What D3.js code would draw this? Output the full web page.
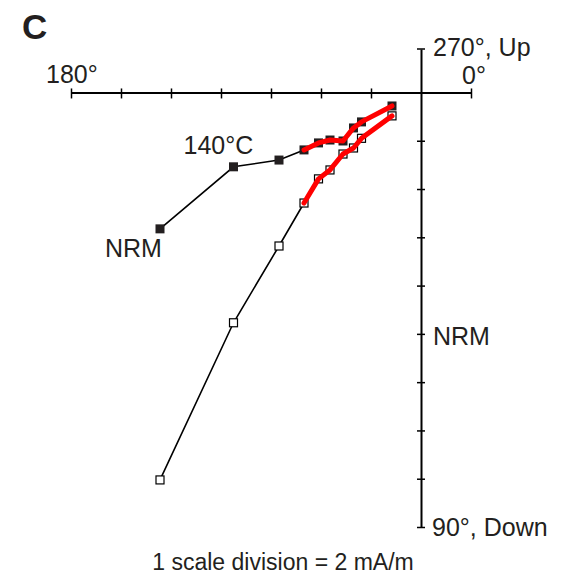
<!DOCTYPE html>
<html lang="en">

<head>
    <meta charset="UTF-8">
    <meta name="viewport" content="width=device-width, initial-scale=1.0">
    <script src="https://cdn.jsdelivr.net/npm/d3@7/dist/d3.min.js"></script>
    <title>Zijderveld C</title>
    <style>
        body { margin: 0; background: #fff; }
        text { font-family: "Liberation Sans", Arial, Helvetica, sans-serif; fill: #231f20; }
    </style>
</head>

<body>
    <div class="no1"></div>
</body>
<script>
    // demagnetization steps, mA/m (N positive to the right, E / Down positive downward)
    var steps = ["NRM", "140°C", "", "", "", "", "", "", "", ""];
    var north = [-10.44, -7.5, -5.68, -4.68, -4.1, -3.64, -3.12, -2.7, -2.38, -1.16];
    var east = [5.65, 3.08, 2.80, 2.38, 2.09, 1.97, 2.01, 1.47, 1.22, 0.56];
    var down = [16.05, 9.54, 6.36, 4.58, 3.58, 3.21, 2.55, 2.30, 1.90, 0.97];
    var fitStart = 3;
    var xTicks = [-14, -12, -10, -8, -6, -4, -2, 2];
    var yTicks = [2, 4, 6, 8, 10, 12, 14, 16, 18];

    var width = 566;
    var height = 581;
    var svg = d3.select(".no1").append("svg").attr("width", width).attr("height", height);

    var x = d3.scaleLinear().domain([-14, 2]).range([71, 471]);
    var y = d3.scaleLinear().domain([-1.8, 18]).range([49, 527]);

    // horizontal axis (180° - 0°)
    var gx = svg.append("g").attr("transform", "translate(0," + y(0) + ")")
        .call(d3.axisBottom(x).tickValues(xTicks).tickSize(6).tickSizeOuter(0).tickFormat(""));
    gx.select(".domain").attr("stroke", "#000").attr("stroke-width", 2);
    gx.selectAll(".tick line").attr("y1", -4).attr("y2", 6).attr("stroke", "#000").attr("stroke-width", 1.5);

    // vertical axis (270° Up - 90° Down)
    var gy = svg.append("g").attr("transform", "translate(" + x(0) + ",0)")
        .call(d3.axisLeft(y).tickValues(yTicks).tickSize(4).tickSizeOuter(0).tickFormat(""));
    gy.select(".domain").attr("stroke", "#000").attr("stroke-width", 2);
    gy.selectAll(".tick line").attr("x1", 4).attr("x2", -4).attr("stroke", "#000").attr("stroke-width", 1.5);
    svg.append("line").attr("x1", x(0) - 4).attr("x2", x(0) + 4).attr("y1", y(-1.8)).attr("y2", y(-1.8))
        .attr("stroke", "#000").attr("stroke-width", 1.5);

    var hor = north.map(function(item, index) { return [item, east[index]]; });
    var ver = north.map(function(item, index) { return [item, down[index]]; });
    var line = d3.line().x(function(d) { return x(d[0]); }).y(function(d) { return y(d[1]); });

    svg.append("path").attr("d", line(hor)).attr("fill", "none").attr("stroke", "#000").attr("stroke-width", 1.6);
    svg.append("path").attr("d", line(ver)).attr("fill", "none").attr("stroke", "#000").attr("stroke-width", 1.6);

    var sq = 9;
    svg.selectAll("rect.hor").data(hor).enter().append("rect").attr("class", "hor")
        .attr("x", function(d) { return x(d[0]) - sq / 2; })
        .attr("y", function(d) { return y(d[1]) - sq / 2; })
        .attr("width", sq).attr("height", sq).attr("fill", "#231f20");
    svg.selectAll("rect.ver").data(ver).enter().append("rect").attr("class", "ver")
        .attr("x", function(d) { return x(d[0]) - (sq - 1) / 2; })
        .attr("y", function(d) { return y(d[1]) - (sq - 1) / 2; })
        .attr("width", sq - 1).attr("height", sq - 1).attr("fill", "#fff").attr("stroke", "#000").attr("stroke-width", 1.2);

    // fitted component
    svg.append("path").attr("d", line(hor.slice(fitStart))).attr("fill", "none").attr("stroke", "#ff0000")
        .attr("stroke-width", 5).attr("stroke-linejoin", "round").attr("stroke-linecap", "round");
    svg.append("path").attr("d", line(ver.slice(fitStart))).attr("fill", "none").attr("stroke", "#ff0000")
        .attr("stroke-width", 5).attr("stroke-linejoin", "round").attr("stroke-linecap", "round");

    // labels
    var fs = "25px";
    svg.append("text").attr("x", 22).attr("y", 39).attr("font-size", "35px").attr("font-weight", "bold").text("C");
    svg.append("text").attr("x", x(-14) - 25).attr("y", 83).attr("font-size", fs).text("180°");
    svg.append("text").attr("x", x(2) - 9).attr("y", 84).attr("font-size", fs).text("0°");
    svg.append("text").attr("x", x(0) + 12).attr("y", 56).attr("font-size", fs).text("270°, Up");
    svg.append("text").attr("x", x(0) + 11).attr("y", 536).attr("font-size", fs).text("90°, Down");
    svg.append("text").attr("x", x(north[1]) - 50).attr("y", y(east[1]) - 13).attr("font-size", fs).text(steps[1]);
    svg.append("text").attr("x", x(north[0]) - 55).attr("y", y(east[0]) + 28).attr("font-size", fs).text(steps[0]);
    svg.append("text").attr("x", x(0) + 12).attr("y", 345).attr("font-size", fs).text(steps[0]);
    svg.append("text").attr("x", 283).attr("y", 570).attr("text-anchor", "middle").attr("font-size", "23px")
        .text("1 scale division = 2 mA/m");
</script>

</html>
